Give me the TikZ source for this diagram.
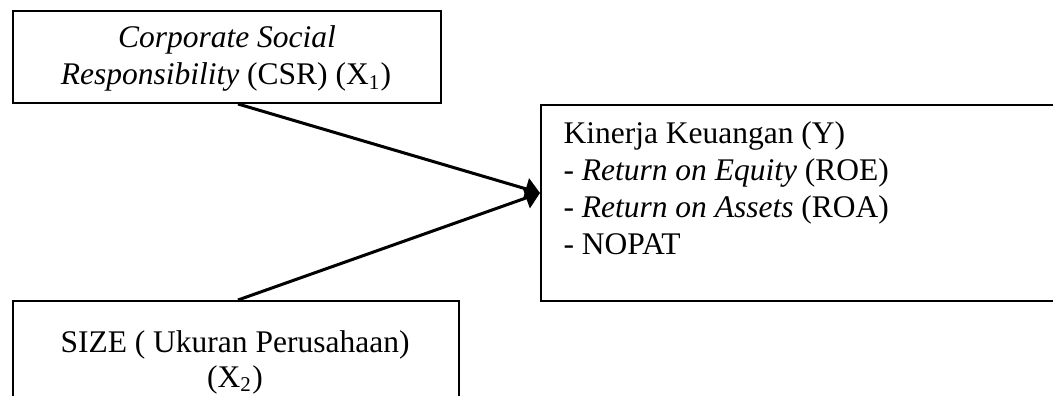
\documentclass[tikz,border=0pt]{standalone}
\usepackage{fontspec}
\setmainfont{Liberation Serif}
\usetikzlibrary{arrows.meta,calc}
\begin{document}
\begin{tikzpicture}[x=0.381pt,y=-0.381pt,
  box/.style={draw,line width=0.76pt,rectangle,inner sep=0pt,anchor=north west},
  txt/.style={inner sep=0pt,font=\fontsize{12pt}{14pt}\selectfont},
  arrow/.style={line width=1.15pt,-{Triangle[length=5.6pt,width=8.2pt]}}]
\clip (0,0) rectangle (1053,396);
\useasboundingbox (0,0) rectangle (1053,396);
% boxes
\node[box,minimum width=163.07pt,minimum height=35.05pt] (csr) at (12,10) {};
\node[box,minimum width=169.93pt,minimum height=53.34pt] (size) at (12,300) {};
\node[box,minimum width=213.36pt,minimum height=74.68pt] (kin) at (540,104) {};
% texts
\node[txt,anchor=base] (t1) at (227,48) {\textit{Corporate Social}};
\node[txt,anchor=base] (t2) at (226,85) {\textit{Responsibility} (CSR) (X\textsubscript{1})};
\node[txt,anchor=base] (t3) at (235,352) {SIZE ( Ukuran Perusahaan)};
\node[txt,anchor=base] (t4) at (235,387) {(X\textsubscript{2})};
\node[txt,anchor=base west] (t5) at (563,143.5) {Kinerja Keuangan (Y)};
\node[txt,anchor=base west] (t6) at (563,180.5) {- \textit{Return on Equity} (ROE)};
\node[txt,anchor=base west] (t7) at (563,217.5) {- \textit{Return on Assets} (ROA)};
\node[txt,anchor=base west] (t8) at (563,254) {- NOPAT};
% connectors
\coordinate (tip) at ($(kin.north west)+(0,89)$);
\draw[arrow] ($(csr.south west)+(226,0)$) -- (tip);
\draw[arrow] ($(size.north west)+(226,0)$) -- (tip);
\end{tikzpicture}
\end{document}
